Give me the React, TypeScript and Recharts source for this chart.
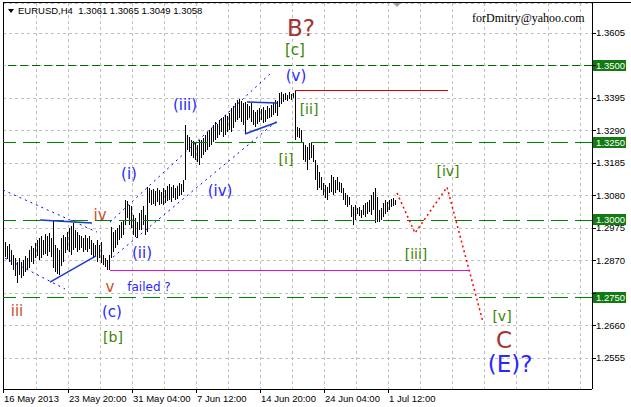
import React from 'react';
import { ComposedChart, Bar, Line, XAxis, YAxis, CartesianGrid, ReferenceLine, ReferenceDot } from 'recharts';

// H4 bars, high / low per bar
const highs = [
  1.2930, 1.2917, 1.2923, 1.2904, 1.2888, 1.2878, 1.2865, 1.2878, 1.2865, 1.2872,
  1.2885, 1.2878, 1.2904, 1.2917, 1.2910, 1.2927, 1.2936, 1.2943, 1.2949, 1.2936,
  1.2956, 1.2949, 1.2959, 1.2943, 1.3001, 1.2920, 1.2910, 1.2904, 1.2943, 1.2952,
  1.2946, 1.2962, 1.2975, 1.2981, 1.2991, 1.2969, 1.2962, 1.2952, 1.2949, 1.2943,
  1.2952, 1.2943, 1.2949, 1.2936, 1.2927, 1.2920, 1.2936, 1.2920, 1.2930, 1.2888,
  1.2878, 1.2872, 1.2888, 1.2978, 1.2962, 1.2969, 1.2975, 1.2985, 1.2994, 1.3001,
  1.3065, 1.3062, 1.3049, 1.3046, 1.3017, 1.3007, 1.2994, 1.3023, 1.3033, 1.3046,
  1.3017, 1.3107, 1.3104, 1.3098, 1.3101, 1.3094, 1.3104, 1.3098, 1.3091, 1.3104,
  1.3098, 1.3111, 1.3117, 1.3107, 1.3114, 1.3104, 1.3111, 1.3120, 1.3117, 1.3130,
  1.3308, 1.3275, 1.3269, 1.3259, 1.3256, 1.3250, 1.3243, 1.3259, 1.3259, 1.3266,
  1.3275, 1.3285, 1.3292, 1.3298, 1.3308, 1.3317, 1.3311, 1.3324, 1.3330, 1.3334,
  1.3340, 1.3337, 1.3347, 1.3363, 1.3369, 1.3379, 1.3389, 1.3392, 1.3385, 1.3379,
  1.3382, 1.3376, 1.3369, 1.3379, 1.3356, 1.3350, 1.3356, 1.3363, 1.3359, 1.3366,
  1.3356, 1.3369, 1.3363, 1.3372, 1.3379, 1.3389, 1.3385, 1.3411, 1.3414, 1.3408,
  1.3411, 1.3405, 1.3414, 1.3408, 1.3411, 1.3418, 1.3301, 1.3298, 1.3292, 1.3253,
  1.3243, 1.3237, 1.3250, 1.3253, 1.3243, 1.3195, 1.3178, 1.3156, 1.3140, 1.3120,
  1.3114, 1.3107, 1.3120, 1.3146, 1.3140, 1.3130, 1.3140, 1.3124, 1.3120, 1.3104,
  1.3088, 1.3082, 1.3075, 1.3049, 1.3043, 1.3049, 1.3040, 1.3043, 1.3033, 1.3049,
  1.3056, 1.3059, 1.3065, 1.3082, 1.3091, 1.3104, 1.3075, 1.3033, 1.3040, 1.3056,
  1.3065, 1.3059, 1.3065, 1.3069, 1.3072, 1.3065,
];

const lows = [
  1.2881, 1.2875, 1.2865, 1.2855, 1.2839, 1.2820, 1.2797, 1.2823, 1.2813, 1.2820,
  1.2833, 1.2839, 1.2846, 1.2865, 1.2859, 1.2878, 1.2885, 1.2872, 1.2878, 1.2888,
  1.2891, 1.2885, 1.2897, 1.2881, 1.2846, 1.2833, 1.2826, 1.2823, 1.2852, 1.2865,
  1.2894, 1.2904, 1.2897, 1.2888, 1.2904, 1.2910, 1.2897, 1.2904, 1.2910, 1.2897,
  1.2904, 1.2897, 1.2907, 1.2888, 1.2878, 1.2881, 1.2865, 1.2878, 1.2862, 1.2855,
  1.2849, 1.2839, 1.2839, 1.2878, 1.2897, 1.2910, 1.2920, 1.2936, 1.2943, 1.2952,
  1.2985, 1.3007, 1.2985, 1.2975, 1.2952, 1.2946, 1.2943, 1.2969, 1.2969, 1.2985,
  1.2952, 1.2962, 1.3056, 1.3049, 1.3053, 1.3046, 1.3059, 1.3049, 1.3053, 1.3049,
  1.3056, 1.3062, 1.3065, 1.3059, 1.3072, 1.3065, 1.3069, 1.3078, 1.3082, 1.3091,
  1.3130, 1.3227, 1.3221, 1.3208, 1.3201, 1.3195, 1.3188, 1.3178, 1.3201, 1.3211,
  1.3221, 1.3227, 1.3237, 1.3243, 1.3253, 1.3259, 1.3266, 1.3275, 1.3285, 1.3269,
  1.3275, 1.3285, 1.3292, 1.3285, 1.3298, 1.3317, 1.3324, 1.3330, 1.3317, 1.3308,
  1.3279, 1.3324, 1.3330, 1.3317, 1.3308, 1.3301, 1.3311, 1.3317, 1.3324, 1.3314,
  1.3317, 1.3327, 1.3330, 1.3334, 1.3340, 1.3347, 1.3337, 1.3366, 1.3376, 1.3382,
  1.3389, 1.3385, 1.3392, 1.3389, 1.3395, 1.3259, 1.3269, 1.3266, 1.3250, 1.3195,
  1.3188, 1.3162, 1.3195, 1.3201, 1.3188, 1.3130, 1.3098, 1.3104, 1.3098, 1.3082,
  1.3072, 1.3065, 1.3088, 1.3091, 1.3082, 1.3088, 1.3098, 1.3091, 1.3088, 1.3065,
  1.3049, 1.3043, 1.3049, 1.3010, 1.2985, 1.3001, 1.3020, 1.3014, 1.3007, 1.3017,
  1.3010, 1.3020, 1.3027, 1.3017, 1.3033, 1.2991, 1.2994, 1.2994, 1.3001, 1.3010,
  1.3020, 1.3027, 1.3033, 1.3043, 1.3046, 1.3049,
];

// red dotted projection (bar index, price)
const projIndex = [196, 205, 221, 239];
const projPrice = [1.3088, 1.2959, 1.3107, 1.2671];

const priceTicks = [1.2555, 1.2660, 1.2765, 1.2870, 1.2975, 1.3080, 1.3185, 1.3290, 1.3395, 1.3500, 1.3605];
const coveredTicks = [1.2765, 1.3500];

const gridTicks = [-1, 15.5, 31.5, 47.5, 63.5, 79.5, 95.5, 111.5, 127.5, 143.5, 159.5, 175.5, 191.5, 207.5, 223.5, 239.5, 255.5, 271.5, 287.5];
const dateTicks = [-1, 31.5, 63.5, 95.5, 127.5, 159.5, 191.5];
const dateLabels = ['16 May 2013', '23 May 20:00', '31 May 04:00', '7 Jun 12:00', '14 Jun 20:00', '24 Jun 04:00', '1 Jul 12:00'];

// green horizontal levels
const levels = [1.35, 1.325, 1.3, 1.275];
const levelDash = ['8 4', '17 7', '17 7', '17 7'];
const levelColor = ['#006a00', '#008000', '#008000', '#008000'];

// trend lines: [from index, from price, to index, to price]
const dottedLines = [
  [-1, 1.3098, 46, 1.2962],
  [0, 1.2878, 30, 1.2778],
  [52.5, 1.2994, 132.5, 1.3473],
  [54, 1.2881, 136, 1.3321],
];
const solidLines = [
  [17.5, 1.3001, 43.5, 1.2991],
  [22.5, 1.2800, 45.5, 1.2885],
  [121, 1.3382, 136, 1.3379],
  [120, 1.3279, 136, 1.3317],
];
const peakLine = [145, 221.5, 1.3418];
const lowLine = [52.5, 232.5, 1.2839];

const BLUE = '#2828ff';
const GREEN = '#3a8500';
const BROWN = '#a83232';
const SIENNA = '#c85028';

// wave labels: text, bar index, price, colour, font size
const waveLabels: [string, number, number, string, number][] = [
  ['B?', 148, 1.3621, BROWN, 23],
  ['[c]', 145, 1.3550, GREEN, 15],
  ['(v)', 145.5, 1.3466, BLUE, 15],
  ['(iii)', 90, 1.3372, BLUE, 15],
  ['[ii]', 152, 1.3359, GREEN, 14],
  ['[i]', 140.5, 1.3198, GREEN, 14],
  ['(i)', 62, 1.3149, BLUE, 15],
  ['(iv)', 107.5, 1.3094, BLUE, 15],
  ['iv', 47.5, 1.3017, SIENNA, 15],
  ['(ii)', 68.5, 1.2894, BLUE, 15],
  ['v', 52.5, 1.2784, SIENNA, 15],
  ['failed ?', 72, 1.2784, BLUE, 12],
  ['iii', 6, 1.2707, SIENNA, 15],
  ['(c)', 53.5, 1.2704, BLUE, 15],
  ['[b]', 54, 1.2623, GREEN, 14],
  ['[iv]', 221.5, 1.3159, GREEN, 14],
  ['[iii]', 205.5, 1.2891, GREEN, 14],
  ['[v]', 248.5, 1.2691, GREEN, 14],
  ['C', 249.5, 1.2613, BROWN, 23],
  ['(E)?', 252.5, 1.2536, BLUE, 23],
];

const axisFont = "'Liberation Sans', Arial, sans-serif";
const labelFont = "'DejaVu Sans', Verdana, sans-serif";

const barData = highs.map((h, i) => ({ i, hl: [lows[i], h] as [number, number] }));
const projData = projIndex.map((i, k) => ({ i, proj: projPrice[k] }));
const chartData = [...barData, ...projData];

const HighLowBar = (props: any) => {
  const { x, y, width, height } = props;
  if (x == null || y == null || isNaN(y)) return <g />;
  const cx = Math.round(x + width / 2) + 0.5;
  return <line x1={cx} x2={cx} y1={Math.round(y)} y2={Math.round(y + height)} stroke="#000" strokeWidth={1} />;
};

const DateTick = (props: any) => {
  const { x, y, payload } = props;
  const k = dateTicks.indexOf(payload.value);
  if (k < 0) return <g />;
  const tx = Math.round(x) + 0.5;
  return (
    <g>
      <line x1={tx} x2={tx} y1={y - 4} y2={y} stroke="#000" />
      <text x={x + 1} y={y + 9} fontSize={9.5} fontFamily={axisFont} fill="#000" textAnchor="start">
        {dateLabels[k]}
      </text>
    </g>
  );
};

const PriceTick = (props: any) => {
  const { x, y, payload } = props;
  if (coveredTicks.includes(payload.value)) return <g />;
  return (
    <text x={x} y={y} dy="0.35em" fontSize={9.5} fontFamily={axisFont} fill="#000" textAnchor="start">
      {payload.value.toFixed(4)}
    </text>
  );
};

const LevelTag = (value: number) => (props: any) => {
  const vb = props.viewBox || {};
  const right = vb.x + vb.width;
  return (
    <g>
      <rect x={right + 1} y={Math.round(vb.y) - 6} width={33} height={11} fill="#117a11" />
      <text x={right + 4} y={vb.y} dy="0.33em" fontSize={9.5} fontFamily={axisFont} fill="#fff">
        {value.toFixed(4)}
      </text>
    </g>
  );
};

const App: React.FC = () => {
  return (
    <div style={{ position: 'absolute', left: 0, top: 0, width: 631, height: 407, background: '#fff' }}>
      <ComposedChart
        width={631}
        height={407}
        data={chartData}
        margin={{ top: 3, right: 0, bottom: 0, left: 3 }}
      >
        <CartesianGrid stroke="#c0c0c0" strokeDasharray="3 3" shapeRendering="crispEdges" />
        <XAxis
          dataKey="i"
          type="number"
          domain={[-1, 293.5]}
          allowDataOverflow
          ticks={gridTicks}
          interval={0}
          height={18}
          tickSize={4}
          tickMargin={0}
          tickLine={false}
          axisLine={{ stroke: '#000', shapeRendering: 'crispEdges' }}
          tick={<DateTick />}
        />
        <YAxis
          orientation="right"
          type="number"
          domain={[1.2455, 1.3702]}
          allowDataOverflow
          ticks={priceTicks}
          interval={0}
          width={39}
          tickSize={4}
          tickMargin={0}
          tickLine={{ stroke: '#000', shapeRendering: 'crispEdges' }}
          axisLine={{ stroke: '#000', shapeRendering: 'crispEdges' }}
          tick={<PriceTick />}
        />
        <ReferenceLine x={-1} stroke="#000" shapeRendering="crispEdges" />

        {levels.map((v, k) => (
          <ReferenceLine
            key={'lv' + k}
            y={v}
            stroke={levelColor[k]}
            strokeDasharray={levelDash[k]}
            shapeRendering="crispEdges"
            label={LevelTag(v)}
          />
        ))}

        <Bar dataKey="hl" barSize={2} shape={<HighLowBar />} isAnimationActive={false} />

        {dottedLines.map((l, k) => (
          <ReferenceLine
            key={'dl' + k}
            segment={[{ x: l[0], y: l[1] }, { x: l[2], y: l[3] }]}
            stroke="#0000ff"
            strokeDasharray="2 4"
          />
        ))}
        {solidLines.map((l, k) => (
          <ReferenceLine
            key={'sl' + k}
            segment={[{ x: l[0], y: l[1] }, { x: l[2], y: l[3] }]}
            stroke="#1a3acc"
            strokeWidth={1.5}
          />
        ))}
        <ReferenceLine
          segment={[{ x: peakLine[0], y: peakLine[2] }, { x: peakLine[1], y: peakLine[2] }]}
          stroke="#e00000"
          shapeRendering="crispEdges"
        />
        <ReferenceLine
          segment={[{ x: lowLine[0], y: lowLine[2] }, { x: lowLine[1], y: lowLine[2] }]}
          stroke="#dd11dd"
          shapeRendering="crispEdges"
        />

        <Line
          dataKey="proj"
          stroke="#ff0000"
          strokeWidth={1.5}
          strokeDasharray="2 3"
          dot={false}
          connectNulls
          isAnimationActive={false}
        />

        {waveLabels.map(([t, i, p, c, s], k) => (
          <ReferenceDot
            key={'wl' + k}
            x={i}
            y={p}
            r={0}
            shape={(d: any) => (
              <text
                x={d.cx}
                y={d.cy}
                textAnchor="middle"
                dominantBaseline="central"
                fontSize={s}
                fontFamily={labelFont}
                fill={c}
              >
                {t}
              </text>
            )}
          />
        ))}
      </ComposedChart>

      {/* chart frame top edge, header, watermark */}
      <div style={{ position: 'absolute', left: 3, top: 2, width: 628, height: 1, background: '#000' }} />
      <div
        style={{
          position: 'absolute', left: 8, top: 9, width: 0, height: 0,
          borderLeft: '3px solid transparent', borderRight: '3px solid transparent', borderTop: '4px solid #000',
        }}
      />
      <div
        style={{
          position: 'absolute', left: 393, top: 3, width: 0, height: 0,
          borderLeft: '4px solid transparent', borderRight: '4px solid transparent', borderTop: '4px solid #a0a0a0',
        }}
      />
      <div
        style={{
          position: 'absolute', left: 18, top: 5, fontSize: 9.5, lineHeight: '12px',
          fontFamily: axisFont, color: '#000', whiteSpace: 'pre',
        }}
      >
        {'EURUSD,H4  1.3061 1.3065 1.3049 1.3058'}
      </div>
      <div
        style={{
          position: 'absolute', left: 472, top: 11, fontSize: 12, lineHeight: '14px',
          fontFamily: "'Liberation Serif', 'Times New Roman', serif", color: '#000',
        }}
      >
        forDmitry@yahoo.com
      </div>
    </div>
  );
};

export default App;
